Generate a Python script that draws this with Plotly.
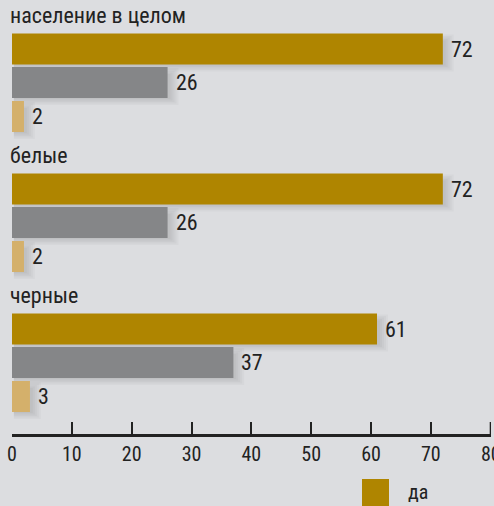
import plotly.graph_objects as go

groups = ["население в целом", "белые", "черные"]
series_names = ["да", "нет", "затрудняюсь ответить"]
yes_vals = [72, 72, 61]
no_vals = [26, 26, 37]
dk_vals = [2, 2, 3]
x_ticks = [0, 10, 20, 30, 40, 50, 60, 70, 80]

colors = ["#af8500", "#858688", "#d4b06b"]
BG = "#dcdde0"
INK = "#222222"
FONT = "Liberation Sans Narrow, Arial Narrow, Roboto Condensed, Roboto, Liberation Sans, sans-serif"

# layout helpers (y axis measured in pixel-like units, reversed)
GROUP_PITCH = 140
LABEL_OFF = 15
BAR_OFF = [49, 82.5, 116.5]
BAR_W = 31
PLOT_H = 434
PX_PER_UNIT = 479 / 80.0

series_vals = [yes_vals, no_vals, dk_vals]

fig = go.Figure()

# soft drop shadows (drawn first, behind the bars)
for k in range(5):
    for s, vals in enumerate(series_vals):
        ys = [g * GROUP_PITCH + BAR_OFF[s] + 4 for g in range(len(groups))]
        ext = (1 + 2 * k) / PX_PER_UNIT
        fig.add_trace(go.Bar(
            x=[v + ext for v in vals], y=ys, orientation="h",
            base=0.3, marker=dict(color="rgba(60,60,70,0.035)", line=dict(width=0)),
            width=BAR_W - 6 + 3 * k, showlegend=False, hoverinfo="skip",
        ))

annotations = []
for s, (name, vals, col) in enumerate(zip(series_names, series_vals, colors)):
    ys = [g * GROUP_PITCH + BAR_OFF[s] for g in range(len(groups))]
    fig.add_trace(go.Bar(
        x=vals, y=ys, orientation="h", name=name,
        marker=dict(color=col, line=dict(width=0)),
        width=BAR_W, showlegend=False, hoverinfo="x",
    ))
    for v, y in zip(vals, ys):
        annotations.append(dict(
            x=v, y=y, xref="x", yref="y", text=str(v), showarrow=False,
            xanchor="left", yanchor="middle", xshift=6,
            font=dict(family=FONT, size=22, color=INK),
        ))

for g, lab in enumerate(groups):
    annotations.append(dict(
        x=0, y=g * GROUP_PITCH + LABEL_OFF, xref="paper", yref="y", text=lab,
        showarrow=False, xanchor="left", yanchor="middle", xshift=-4,
        font=dict(family=FONT, size=22, color=INK),
    ))

# last tick label (at the very edge, plotly drops it)
last_tick = x_ticks[-1]
annotations.append(dict(
    x=last_tick, y=0, xref="x", yref="paper", text=str(last_tick), showarrow=False,
    xanchor="center", yanchor="top", yshift=-6,
    font=dict(family=FONT, size=20, color=INK),
))

# legend (only the first entry is visible in the crop), drawn in paper coords
annotations.append(dict(
    x=(406 - 12) / 479, y=-(492 - 434) / 434, xref="paper", yref="paper",
    text="да", showarrow=False, xanchor="left", yanchor="middle",
    font=dict(family=FONT, size=20, color=INK),
))

fig.update_layout(
    width=494, height=506,
    margin=dict(l=12, r=3, t=0, b=72),
    paper_bgcolor=BG, plot_bgcolor=BG,
    barmode="overlay",
    showlegend=False,
    annotations=annotations,
    xaxis=dict(
        range=[0, 80.05], tickvals=x_ticks, ticktext=[str(t) for t in x_ticks],
        showgrid=False, zeroline=False, showline=True, linecolor=INK,
        linewidth=2.5, ticks="inside", ticklen=12, tickwidth=2, tickcolor=INK,
        tickfont=dict(family=FONT, size=20, color=INK),
        ticklabelstandoff=0, fixedrange=True, automargin=False,
    ),
    yaxis=dict(
        range=[PLOT_H, 0], showgrid=False, zeroline=False, showticklabels=False,
        showline=False, fixedrange=True,
    ),
)

# tick mark for the last tick
fig.add_shape(
    type="line", xref="x", yref="paper", x0=last_tick, x1=last_tick,
    y0=0, y1=12 / PLOT_H, line=dict(color=INK, width=2),
)

fig.add_shape(
    type="rect", xref="paper", yref="paper",
    x0=(362 - 12) / 479, x1=(389 - 12) / 479,
    y0=-(479 - 434) / 434, y1=-(512 - 434) / 434,
    fillcolor=colors[0], line=dict(width=0),
)

fig.write_html(
    "out.html",
    config={"displayModeBar": False},
    post_script="document.body.style.margin='0';document.body.style.background='%s';" % BG,
)
